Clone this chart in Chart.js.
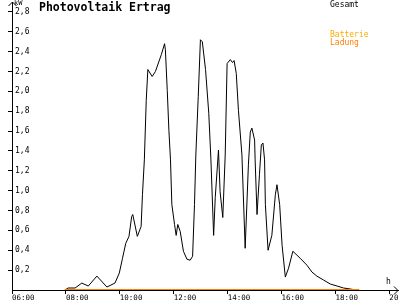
<!DOCTYPE html>
<html>
<head>
<meta charset="utf-8">
<script src="https://cdn.jsdelivr.net/npm/chart.js@4/dist/chart.umd.min.js"></script>
<style>
  body { margin: 0; background: #fff; }
  #wrap { position: relative; width: 400px; height: 300px; overflow: hidden; }
  .lbl { position: absolute; font-family: "DejaVu Sans Mono", monospace; line-height: 1; white-space: nowrap; }
</style>
</head>
<body>
<div id="wrap">
  <canvas id="pvChart" width="400" height="300"></canvas>
  <div class="lbl" style="left:39px;top:2px;font-size:11.5px;font-weight:bold;">Photovoltaik Ertrag</div>
  <div class="lbl" style="left:14px;top:0px;font-size:7px;">kW</div>
  <div class="lbl" style="left:386px;top:278px;font-size:8px;">h</div>
  <div class="lbl" style="left:330px;top:1px;font-size:8px;color:#000;">Gesamt</div>
  <div class="lbl" style="left:330px;top:31px;font-size:8px;color:#ffaa00;">Batterie</div>
  <div class="lbl" style="left:330px;top:39px;font-size:8px;color:#ff8000;">Ladung</div>
</div>
<script>
// Uhrzeit (Stunden) und Leistung in kW
const hours = [7.97, 8.08, 8.34, 8.59, 8.83, 9.15, 9.52, 9.82, 9.98, 10.10, 10.22, 10.34, 10.44, 10.48,
  10.65, 10.79, 10.84, 10.91, 10.98, 11.04, 11.20, 11.32, 11.54, 11.66, 11.69, 11.76, 11.82, 11.88,
  11.93, 12.03, 12.09, 12.15, 12.24, 12.36, 12.49, 12.61, 12.70, 12.77, 12.82, 12.91, 12.99, 13.06,
  13.18, 13.30, 13.38, 13.48, 13.54, 13.66, 13.72, 13.82, 13.91, 13.98, 14.10, 14.18, 14.24, 14.32,
  14.40, 14.53, 14.65, 14.77, 14.84, 14.90, 15.00, 15.02, 15.09, 15.18, 15.25, 15.31, 15.37, 15.40,
  15.50, 15.64, 15.77, 15.83, 15.93, 16.02, 16.14, 16.26, 16.42, 16.69, 16.94, 17.13, 17.31, 17.56,
  17.81, 18.06, 18.30, 18.55, 18.74];
const gesamt = [0.00, 0.02, 0.02, 0.07, 0.04, 0.14, 0.03, 0.07, 0.17, 0.32, 0.47, 0.54, 0.74, 0.76,
  0.54, 0.64, 0.96, 1.31, 1.91, 2.22, 2.15, 2.20, 2.37, 2.48, 2.42, 2.01, 1.61, 1.31,
  0.86, 0.66, 0.55, 0.66, 0.59, 0.39, 0.31, 0.30, 0.34, 0.86, 1.36, 1.95, 2.52, 2.50,
  2.22, 1.78, 1.31, 0.55, 0.93, 1.41, 0.99, 0.73, 1.36, 2.28, 2.32, 2.29, 2.31, 2.18,
  1.81, 1.36, 0.42, 1.26, 1.59, 1.63, 1.51, 1.31, 0.76, 1.16, 1.46, 1.48, 1.31, 0.86,
  0.40, 0.55, 0.96, 1.06, 0.86, 0.45, 0.13, 0.22, 0.39, 0.32, 0.25, 0.18, 0.14, 0.10,
  0.06, 0.04, 0.02, 0.01, 0.00];
const ladungHours = [7.95, 18.88];
const ladung = [0, 0];
const hourTicks = [6, 8, 10, 12, 14, 16, 18, 20];
const kwTicks = [0.2, 0.4, 0.6, 0.8, 1.0, 1.2, 1.4, 1.6, 1.8, 2.0, 2.2, 2.4, 2.6, 2.8];

const toPoints = (xs, ys) => xs.map((x, i) => ({ x: x, y: ys[i] }));

// kleine Pfeile an den Achsenenden
const arrows = {
  id: "arrows",
  afterDraw(chart) {
    const { ctx, chartArea } = chart;
    ctx.save();
    ctx.strokeStyle = "#000";
    ctx.lineWidth = 1;
    ctx.beginPath();
    ctx.moveTo(chartArea.left - 3.5, chartArea.top + 4);
    ctx.lineTo(chartArea.left + 0.5, chartArea.top);
    ctx.lineTo(chartArea.left + 4.5, chartArea.top + 4);
    ctx.moveTo(chartArea.right - 4, chartArea.bottom - 3.5);
    ctx.lineTo(chartArea.right, chartArea.bottom + 0.5);
    ctx.lineTo(chartArea.right - 4, chartArea.bottom + 4.5);
    ctx.stroke();
    ctx.restore();
  }
};

const ctx = document.getElementById("pvChart").getContext("2d");
new Chart(ctx, {
  type: "line",
  data: {
    datasets: [
      {
        label: "Gesamt",
        data: toPoints(hours, gesamt),
        borderColor: "#000",
        borderWidth: 1,
        pointRadius: 0,
        tension: 0,
        order: 1,
      },
      {
        label: "Batterie Ladung",
        data: toPoints(ladungHours, ladung),
        borderColor: "#ff8000",
        borderWidth: 2,
        pointRadius: 0,
        order: 0,
      },
    ],
  },
  options: {
    responsive: false,
    animation: false,
    devicePixelRatio: 1,
    layout: { padding: { top: 2, right: 2, left: 0, bottom: 0 } },
    plugins: { legend: { display: false }, tooltip: { enabled: false }, title: { display: false } },
    scales: {
      x: {
        type: "linear",
        min: 6,
        max: 20.32,
        afterBuildTicks: s => { s.ticks = hourTicks.map(v => ({ value: v })); },
        afterFit: s => { s.height = 10; s.paddingLeft = 0; s.paddingRight = 0; },
        border: { display: true, color: "#000", width: 1 },
        grid: { drawOnChartArea: false, drawTicks: true, tickLength: 4, color: "#000" },
        ticks: {
          align: "start",
          padding: 0,
          maxRotation: 0,
          autoSkip: false,
          color: "#000",
          font: { family: "DejaVu Sans Mono", size: 7.5 },
          callback: v => String(v).padStart(2, "0") + ":00",
        },
      },
      y: {
        min: 0,
        max: 2.9,
        afterBuildTicks: s => { s.ticks = kwTicks.map(v => ({ value: v })); },
        afterFit: s => { s.width = 12; s.paddingTop = 0; s.paddingBottom = 0; },
        border: { display: true, color: "#000", width: 1 },
        grid: { drawOnChartArea: false, drawTicks: true, tickLength: 4, color: "#000" },
        ticks: {
          mirror: true,
          padding: 3,
          autoSkip: false,
          color: "#000",
          font: { family: "DejaVu Sans Mono", size: 8 },
          callback: v => v.toFixed(1).replace(".", ","),
        },
      },
    },
  },
  plugins: [arrows],
});
</script>
</body>
</html>
